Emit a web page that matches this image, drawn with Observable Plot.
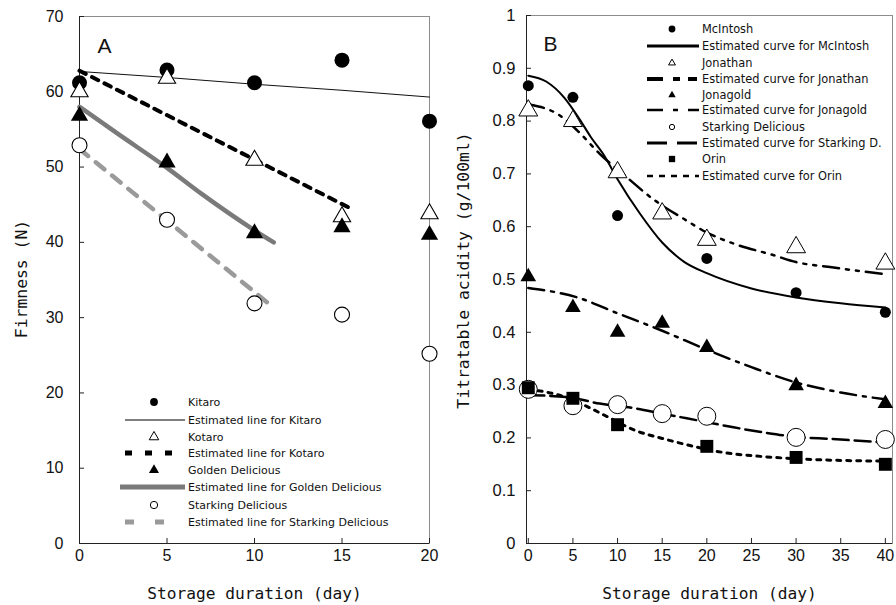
<!DOCTYPE html>
<html><head><meta charset="utf-8">
<script src="https://cdn.jsdelivr.net/npm/d3@7"></script>
<script src="https://cdn.jsdelivr.net/npm/@observablehq/plot@0.6"></script>
<style>
body{margin:0;background:#fff;}
#wrap{position:relative;width:896px;height:605px;overflow:hidden;background:#fff;}
#wrap > div{position:absolute;top:0;}
</style></head><body>
<div id="wrap"><div id="pa" style="left:0"></div><div id="pb" style="left:448px"></div></div>
<script>
// ---------- Panel A: Firmness (N) ----------
const daysA = [0, 5, 10, 15, 20];
const kitaro = [61.2, 62.9, 61.2, 64.2, 56.1];
const kotaro = [60.0, 61.8, 50.9, 43.4, 43.8];
const golden = [56.8, 50.6, 41.2, 42.0, 41.0];
const starkingA = [52.9, 43.0, 31.9, 30.4, 25.2];
// estimated lines
const kitaroLineX = [0, 5, 10, 15, 20];
const kitaroLineY = [62.7, 61.9, 61.0, 60.2, 59.3];
const kotaroLineX = [0, 15.5];
const kotaroLineY = [62.8, 44.5];
const goldenLineX = [0, 2.2, 5, 7, 10, 11.1];
const goldenLineY = [58.0, 54.4, 49.9, 46.4, 41.6, 40.0];
const starkingLineX = [0, 11];
const starkingLineY = [52.4, 31.5];
const xTicksA = [0, 5, 10, 15, 20];
const yTicksA = [0, 10, 20, 30, 40, 50, 60, 70];
const legendLabelsA = ["Kitaro", "Estimated line for Kitaro", "Kotaro", "Estimated line for Kotaro",
  "Golden Delicious", "Estimated line for Golden Delicious", "Starking Delicious", "Estimated line for Starking Delicious"];

// ---------- Panel B: Titratable acidity ----------
const mcDays = [0, 5, 10, 20, 30, 40];
const mcintosh = [0.867, 0.845, 0.621, 0.540, 0.475, 0.438];
const joDays = [0, 5, 10, 15, 20, 30, 40];
const jonathan = [0.820, 0.800, 0.703, 0.625, 0.575, 0.561, 0.530];
const jgDays = [0, 5, 10, 15, 20, 30, 40];
const jonagold = [0.505, 0.447, 0.400, 0.417, 0.371, 0.299, 0.265];
const sdDays = [0, 5, 10, 15, 20, 30, 40];
const starkingB = [0.292, 0.261, 0.263, 0.246, 0.241, 0.201, 0.197];
const orDays = [0, 5, 10, 20, 30, 40];
const orin = [0.295, 0.275, 0.225, 0.184, 0.163, 0.150];
// estimated curves
const mcCurveX = [0, 2, 4, 5.5, 7, 8.5, 10, 12.5, 15, 17.5, 20, 25, 30, 35, 40];
const mcCurveY = [0.886, 0.875, 0.845, 0.810, 0.770, 0.735, 0.690, 0.625, 0.570, 0.533, 0.512, 0.483, 0.466, 0.455, 0.447];
const joCurveX = [0, 3.5, 5.5, 8, 11, 14, 17.5, 20, 23, 27.5, 30, 34, 40];
const joCurveY = [0.832, 0.811, 0.782, 0.738, 0.694, 0.652, 0.614, 0.589, 0.568, 0.546, 0.533, 0.523, 0.510];
const jgCurveX = [0, 5.5, 10, 15, 20, 25, 30, 35, 40];
const jgCurveY = [0.484, 0.466, 0.436, 0.403, 0.367, 0.334, 0.305, 0.286, 0.273];
const sdCurveX = [0, 4.5, 8, 12, 15, 19, 23, 26.5, 30, 34, 40];
const sdCurveY = [0.281, 0.277, 0.265, 0.256, 0.246, 0.233, 0.220, 0.210, 0.202, 0.198, 0.191];
const orCurveX = [0, 3, 5, 7, 9, 12, 15, 18, 22, 26, 32, 40];
const orCurveY = [0.292, 0.283, 0.272, 0.256, 0.239, 0.214, 0.199, 0.186, 0.172, 0.165, 0.159, 0.156];
const xTicksB = [0, 5, 10, 15, 20, 25, 30, 35, 40];
const yTicksB = [0, 0.1, 0.2, 0.3, 0.4, 0.5, 0.6, 0.7, 0.8, 0.9, 1];
const legendLabelsB = ["McIntosh", "Estimated curve for McIntosh", "Jonathan", "Estimated curve for Jonathan",
  "Jonagold", "Estimated curve for Jonagold", "Starking Delicious", "Estimated curve for Starking D.",
  "Orin", "Estimated curve for Orin"];

const pts = (xs, ys) => xs.map((x, i) => ({x, y: ys[i]}));
const LABEL_FONT = "DejaVu Sans, sans-serif";
const TITLE_FONT = "DejaVu Sans Mono, monospace";
const TICK_FONT = "Liberation Sans, Arial, sans-serif";

// ---------- Panel A plot ----------
const mA = {l: 79, r: 19, t: 16, b: 62};
const WA = 448, H = 605;
const fwA = WA - mA.l - mA.r, fh = H - mA.t - mA.b;
const plotA = Plot.plot({
  width: WA, height: H,
  marginLeft: mA.l, marginRight: mA.r, marginTop: mA.t, marginBottom: mA.b,
  x: {domain: [0, 20]},
  y: {domain: [0, 70]},
  style: {fontFamily: TICK_FONT, fontSize: "16px", color: "#111", background: "transparent", overflow: "visible"},
  marks: [
    Plot.frame({stroke: "#8c8c8c"}),
    Plot.ruleX([0], {stroke: "#222"}),
    Plot.ruleY([0], {stroke: "#222"}),
    Plot.tickY(yTicksA, {y: d => d, insetRight: fwA - 5, stroke: "#222"}),
    Plot.tickX(xTicksA, {x: d => d, insetTop: fh - 5, stroke: "#222"}),
    Plot.axisY({ticks: yTicksA, tickSize: 0, tickPadding: 16, label: null, fontSize: 16, fontFamily: TICK_FONT}),
    Plot.axisX({ticks: xTicksA, tickSize: 0, tickPadding: 6, label: null, fontSize: 16, fontFamily: TICK_FONT}),
    Plot.line(pts(kitaroLineX, kitaroLineY), {x: "x", y: "y", stroke: "#111", strokeWidth: 1}),
    Plot.line(pts(kotaroLineX, kotaroLineY), {x: "x", y: "y", stroke: "#000", strokeWidth: 4, strokeDasharray: "7,7"}),
    Plot.line(pts(goldenLineX, goldenLineY), {x: "x", y: "y", stroke: "#7a7a7a", strokeWidth: 4.5, curve: "monotone-x"}),
    Plot.line(pts(starkingLineX, starkingLineY), {x: "x", y: "y", stroke: "#9a9a9a", strokeWidth: 4.5, strokeDasharray: "11,10"}),
    Plot.dot(pts(daysA, kitaro), {x: "x", y: "y", r: 7.5, fill: "#000", symbol: "circle"}),
    Plot.dot(pts(daysA, kotaro), {x: "x", y: "y", r: 6.4, fill: "#fff", stroke: "#000", strokeWidth: 1.1, symbol: "triangle"}),
    Plot.dot(pts(daysA, golden), {x: "x", y: "y", r: 6.4, fill: "#000", symbol: "triangle"}),
    Plot.dot(pts(daysA, starkingA), {x: "x", y: "y", r: 7.5, fill: "#fff", stroke: "#000", strokeWidth: 1.1, symbol: "circle"}),
    Plot.text(["A"], {text: d => d, frameAnchor: "top-left", dx: 18, dy: 30, fontSize: 21, textAnchor: "start", lineAnchor: "middle", fontFamily: TICK_FONT}),
    Plot.text(["Firmness (N)"], {text: d => d, frameAnchor: "left", rotate: -90, dx: -58, dy: -1, textAnchor: "middle", lineAnchor: "middle", fontSize: 16.4, fontFamily: TITLE_FONT}),
    Plot.text(["Storage duration (day)"], {text: d => d, frameAnchor: "bottom", dy: 50, textAnchor: "middle", lineAnchor: "middle", fontSize: 16.2, fontFamily: TITLE_FONT})
  ]
});
document.getElementById("pa").appendChild(plotA);

// ---------- Panel B plot ----------
const mB = {l: 78, r: 4, t: 15, b: 62};
const WB = 448;
const fwB = WB - mB.l - mB.r, fhB = H - mB.t - mB.b;
const fmtB = d => String(+d.toFixed(1));
const plotB = Plot.plot({
  width: WB, height: H,
  marginLeft: mB.l, marginRight: mB.r, marginTop: mB.t, marginBottom: mB.b,
  x: {domain: [-0.2, 40.8]},
  y: {domain: [0, 1]},
  style: {fontFamily: TICK_FONT, fontSize: "16px", color: "#111", background: "transparent", overflow: "visible"},
  marks: [
    Plot.frame({stroke: "#8c8c8c"}),
    Plot.ruleX([-0.2], {stroke: "#222"}),
    Plot.ruleY([0], {stroke: "#222"}),
    Plot.tickY(yTicksB, {y: d => d, insetRight: fwB - 5, stroke: "#222"}),
    Plot.tickX(xTicksB, {x: d => d, insetTop: fhB - 5, stroke: "#222"}),
    Plot.axisY({ticks: yTicksB, tickSize: 0, tickPadding: 11, tickFormat: fmtB, label: null, fontSize: 16.5, fontFamily: TICK_FONT}),
    Plot.axisX({ticks: xTicksB, tickSize: 0, tickPadding: 6, label: null, fontSize: 16, fontFamily: TICK_FONT}),
    Plot.line(pts(mcCurveX, mcCurveY), {x: "x", y: "y", stroke: "#000", strokeWidth: 2, curve: "monotone-x"}),
    Plot.line(pts(joCurveX, joCurveY), {x: "x", y: "y", stroke: "#000", strokeWidth: 2.5, curve: "monotone-x", strokeDasharray: "16,7,3,7,3,7"}),
    Plot.line(pts(jgCurveX, jgCurveY), {x: "x", y: "y", stroke: "#000", strokeWidth: 2.5, curve: "monotone-x", strokeDasharray: "16,7,3,7"}),
    Plot.line(pts(sdCurveX, sdCurveY), {x: "x", y: "y", stroke: "#000", strokeWidth: 2.5, curve: "monotone-x", strokeDasharray: "16,6"}),
    Plot.line(pts(orCurveX, orCurveY), {x: "x", y: "y", stroke: "#000", strokeWidth: 3, curve: "monotone-x", strokeDasharray: "4,6"}),
    Plot.dot(pts(mcDays, mcintosh), {x: "x", y: "y", r: 5.5, fill: "#000", symbol: "circle"}),
    Plot.dot(pts(joDays, jonathan), {x: "x", y: "y", r: 7, fill: "#fff", stroke: "#000", strokeWidth: 1, symbol: "triangle"}),
    Plot.dot(pts(jgDays, jonagold), {x: "x", y: "y", r: 5.8, fill: "#000", symbol: "triangle"}),
    Plot.dot(pts(sdDays, starkingB), {x: "x", y: "y", r: 9, fill: "#fff", stroke: "#000", strokeWidth: 1, symbol: "circle"}),
    Plot.dot(pts(orDays, orin), {x: "x", y: "y", r: 7.3, fill: "#000", symbol: "square"}),
    Plot.text(["B"], {text: d => d, frameAnchor: "top-left", dx: 17, dy: 29, fontSize: 21, textAnchor: "start", lineAnchor: "middle", fontFamily: TICK_FONT}),
    Plot.text(["Titratable acidity (g/100ml)"], {text: d => d, frameAnchor: "left", rotate: -90, dx: -63, dy: -9, textAnchor: "middle", lineAnchor: "middle", fontSize: 16.4, fontFamily: TITLE_FONT}),
    Plot.text(["Storage duration (day)"], {text: d => d, frameAnchor: "bottom", dy: 50, textAnchor: "middle", lineAnchor: "middle", fontSize: 16.2, fontFamily: TITLE_FONT})
  ]
});
document.getElementById("pb").appendChild(plotB);

// ---------- Legends (overlay) ----------
const svg = d3.select("#wrap").append("svg")
  .attr("width", 896).attr("height", 605)
  .style("position", "absolute").style("left", "0px").style("top", "0px");

const symStylesA = [
  {sym: "circle", area: 48, fill: "#000"},
  {line: true, stroke: "#000", w: 1, x1: 125, x2: 185},
  {sym: "triangle", area: 40, fill: "#fff", stroke: "#000"},
  {line: true, stroke: "#000", w: 5, dash: "7,13", x1: 125, x2: 172},
  {sym: "triangle", area: 44, fill: "#000"},
  {line: true, stroke: "#7a7a7a", w: 5, x1: 120, x2: 185},
  {sym: "circle", area: 42, fill: "#fff", stroke: "#000"},
  {line: true, stroke: "#9a9a9a", w: 5, dash: "9,21", x1: 125, x2: 165}
];
const symStylesB = [
  {sym: "circle", area: 36, fill: "#000"},
  {line: true, stroke: "#000", w: 3, x1: 647, x2: 699},
  {sym: "triangle", area: 20, fill: "#fff", stroke: "#000"},
  {line: true, stroke: "#000", w: 4, dash: "16,10,7,8,9", x1: 647, x2: 699},
  {sym: "triangle", area: 24, fill: "#000"},
  {line: true, stroke: "#000", w: 2.5, dash: "16,10,5,10,11", x1: 647, x2: 699},
  {sym: "circle", area: 22, fill: "#fff", stroke: "#000"},
  {line: true, stroke: "#000", w: 3, dash: "20,10", x1: 647, x2: 699},
  {sym: "square", area: 40, fill: "#000"},
  {line: true, stroke: "#000", w: 2.5, dash: "6,6", x1: 647, x2: 699}
];
const symMap = {circle: d3.symbolCircle, triangle: d3.symbolTriangle, square: d3.symbolSquare};

function drawLegend(labels, styles, cfg) {
  const g = svg.append("g");
  labels.forEach((lab, i) => {
    const y = cfg.ys[i];
    const s = styles[i];
    if (s.line) {
      g.append("line").attr("x1", s.x1).attr("x2", s.x2).attr("y1", y).attr("y2", y)
        .attr("stroke", s.stroke).attr("stroke-width", s.w)
        .attr("stroke-dasharray", s.dash || null);
    } else {
      g.append("path").attr("d", d3.symbol(symMap[s.sym], s.area)())
        .attr("transform", `translate(${cfg.symX},${y})`)
        .attr("fill", s.fill).attr("stroke", s.stroke || "none").attr("stroke-width", 1);
    }
    g.append("text").attr("x", cfg.textX).attr("y", y).attr("dy", "0.35em")
      .attr("font-family", LABEL_FONT).attr("font-size", cfg.fontSize).attr("fill", "#111")
      .text(lab);
  });
}
drawLegend(legendLabelsA, symStylesA, {symX: 154, textX: 188, fontSize: 11,
  ys: [402, 420, 437, 453, 470, 487, 505, 522]});
drawLegend(legendLabelsB, symStylesB, {symX: 672, textX: 702, fontSize: 11.4,
  ys: [29, 46, 63, 79, 95, 110, 127, 143, 159, 176]});
</script>
</body></html>
